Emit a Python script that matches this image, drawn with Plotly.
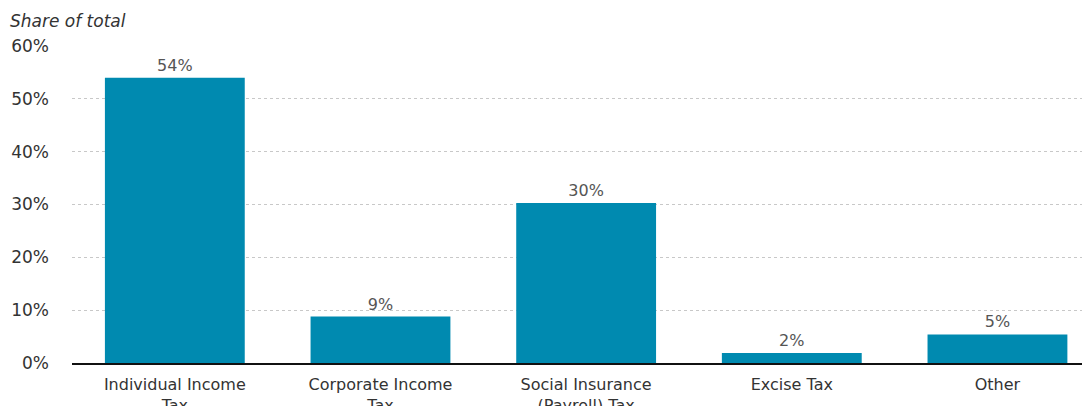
import plotly.graph_objects as go

categories = ["Individual Income<br>Tax", "Corporate Income<br>Tax", "Social Insurance<br>(Payroll) Tax", "Excise Tax", "Other"]
shares = [54.0, 8.8, 30.3, 1.9, 5.4]
y_ticks = [0, 10, 20, 30, 40, 50, 60]
y_tick_labels = ["0%", "10%", "20%", "30%", "40%", "50%", "60%"]

FONT = "DejaVu Sans"

# The page body adds an 8px margin, so the figure is sized/offset to compensate.
fig = go.Figure()
fig.add_trace(go.Bar(
    x=categories,
    y=shares,
    marker=dict(color="#008AB0", line=dict(width=0)),
    texttemplate="%{y:.0f}%",
    textposition="outside",
    textfont=dict(family=FONT, size=16, color="#555555"),
    cliponaxis=False,
    width=0.68,
))

fig.update_layout(
    width=1082,
    height=398,
    margin=dict(l=64, r=0, t=38, b=43),
    paper_bgcolor="white",
    plot_bgcolor="white",
    showlegend=False,
    font=dict(family=FONT, color="#333333"),
    annotations=[dict(
        text="<i>Share of total</i>", xref="paper", yref="paper",
        x=-64/1018, y=1, xanchor="left", yanchor="bottom", yshift=13,
        showarrow=False, font=dict(family=FONT, size=17, color="#333333"),
    )],
)
fig.update_xaxes(
    range=[-0.5, 4.45],
    automargin=False,
    showgrid=False,
    showline=True, linecolor="#111111", linewidth=2,
    ticks="",
    ticklabelstandoff=6,
    tickfont=dict(family=FONT, size=16, color="#333333"),
    zeroline=False,
)
fig.update_yaxes(
    range=[0, 60],
    automargin=False,
    tickvals=y_ticks,
    ticktext=y_tick_labels,
    showgrid=True, gridcolor="#c8c8c8", griddash="dot", gridwidth=1,
    showline=False, zeroline=False,
    ticks="",
    ticklabelstandoff=22,
    tickfont=dict(family=FONT, size=17, color="#333333"),
)

fig.write_html("out.html")
